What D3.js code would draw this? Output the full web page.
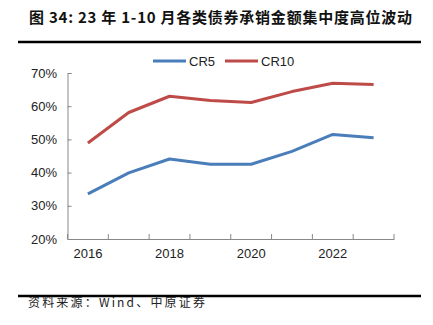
<!DOCTYPE html>
<html>
<head>
<meta charset="utf-8">
<script src="https://cdn.jsdelivr.net/npm/d3@7"></script>
<style>
  body { margin: 0; background: #fff; }
  svg { display: block; }
</style>
</head>
<body>
<div id="chart"></div>
<script>
var svgWidth = 433;
var svgHeight = 325;

// data
var years = ["2016", "2017", "2018", "2019", "2020", "2021", "2022", "2023"];
var tickYears = ["2016", "2018", "2020", "2022"];
var cr5 = [33.6, 39.9, 44.1, 42.5, 42.5, 46.4, 51.5, 50.5];
var cr10 = [48.9, 58.1, 63.0, 61.7, 61.1, 64.4, 66.9, 66.5];
var yTicks = [20, 30, 40, 50, 60, 70];

var seriesNames = ["CR5", "CR10"];
var seriesColors = ["#4a7ebb", "#be4b48"];

var margin = { top: 73, right: 39, bottom: 86, left: 67.5 };
var width = svgWidth - margin.left - margin.right;
var height = svgHeight - margin.top - margin.bottom;

var svg = d3.select("#chart")
  .append("svg")
  .attr("width", svgWidth)
  .attr("height", svgHeight);

// title + rule
svg.append("text")
  .attr("x", 29)
  .attr("y", 23)
  .attr("font-family", "'Noto Sans CJK SC', 'Liberation Sans', sans-serif")
  .attr("font-size", 15)
  .attr("font-weight", "bold")
  .attr("fill", "#111")
  .attr("textLength", 383)
  .text("图 34: 23 年 1-10 月各类债券承销金额集中度高位波动");

svg.append("line")
  .attr("x1", 18).attr("x2", 421)
  .attr("y1", 42).attr("y2", 42)
  .attr("stroke", "#000")
  .attr("stroke-width", 2.5);

// source + rule
svg.append("line")
  .attr("x1", 18).attr("x2", 421)
  .attr("y1", 296).attr("y2", 296)
  .attr("stroke", "#000")
  .attr("stroke-width", 2.5);

svg.append("text")
  .attr("x", 28)
  .attr("y", 307)
  .attr("font-family", "'Noto Sans CJK SC', 'Liberation Sans', sans-serif")
  .attr("font-size", 12)
  .attr("fill", "#222")
  .attr("textLength", 177)
  .text("资料来源：Wind、中原证券");

var chartGroup = svg.append("g")
  .attr("transform", `translate(${margin.left}, ${margin.top})`);

var xScale = d3.scaleBand()
  .domain(years)
  .range([0, width]);

var yScale = d3.scaleLinear()
  .domain([20, 70])
  .range([height, 0]);

// y axis, ticks pointing inward
var leftAxis = d3.axisRight(yScale)
  .tickValues(yTicks)
  .tickSize(4)
  .tickFormat(d => d + "%");

var yAxis = chartGroup.append("g").call(leftAxis);
yAxis.select(".domain").attr("stroke", "#888");
yAxis.selectAll(".tick line").attr("stroke", "#888");
yAxis.selectAll(".tick text")
  .attr("x", -10.5)
  .attr("text-anchor", "end")
  .attr("font-family", "'Liberation Sans', Arial, sans-serif")
  .attr("font-size", 13)
  .attr("fill", "#222");

// x axis: ticks at band edges, labels every other year
var bottomAxis = d3.axisBottom(xScale)
  .tickSize(0)
  .tickFormat(d => tickYears.indexOf(d) >= 0 ? d : "");

var xAxis = chartGroup.append("g")
  .attr("transform", `translate(0, ${height})`)
  .call(bottomAxis);
xAxis.select(".domain").attr("stroke", "#888");
xAxis.selectAll(".tick text")
  .attr("y", 10)
  .attr("font-family", "'Liberation Sans', Arial, sans-serif")
  .attr("font-size", 13)
  .attr("fill", "#222");

var edges = years.map(d => xScale(d)).concat([width]);
xAxis.selectAll(".edge")
  .data(edges)
  .enter()
  .append("line")
  .attr("x1", d => d).attr("x2", d => d)
  .attr("y1", 0).attr("y2", -5)
  .attr("stroke", "#888");

// lines
var line = d3.line()
  .x((d, i) => xScale(years[i]) + xScale.bandwidth() / 2)
  .y(d => yScale(d));

[cr5, cr10].forEach(function(series, k) {
  chartGroup.append("path")
    .datum(series)
    .attr("fill", "none")
    .attr("stroke", seriesColors[k])
    .attr("stroke-width", 3)
    .attr("stroke-linejoin", "round")
    .attr("d", line);
});

// legend
var legendX = [153, 225];
seriesNames.forEach(function(name, k) {
  svg.append("line")
    .attr("x1", legendX[k]).attr("x2", legendX[k] + 33)
    .attr("y1", 61).attr("y2", 61)
    .attr("stroke", seriesColors[k])
    .attr("stroke-width", 3);
  svg.append("text")
    .attr("x", legendX[k] + 36)
    .attr("y", 65.5)
    .attr("font-family", "'Liberation Sans', Arial, sans-serif")
    .attr("font-size", 13)
    .attr("fill", "#222")
    .text(name);
});
</script>
</body>
</html>
